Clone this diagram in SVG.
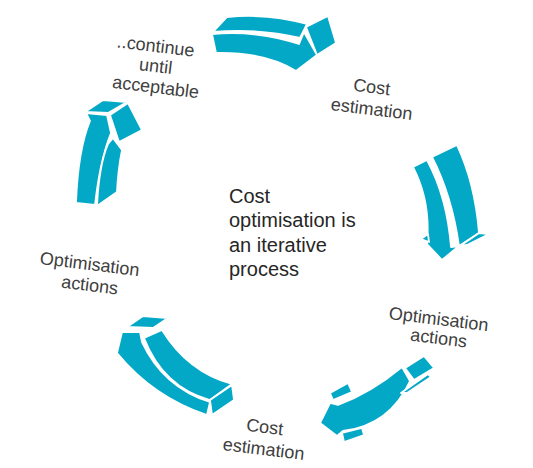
<svg xmlns="http://www.w3.org/2000/svg" width="533" height="468" viewBox="0 0 533 468">
<style>
.f{fill:#03A8C6;stroke:#fff;stroke-width:1.8;stroke-linejoin:round}
.lb{font-family:"Liberation Sans",Arial,sans-serif;font-size:18px;fill:#404040;text-anchor:middle}
.ct{font-family:"Liberation Sans",Arial,sans-serif;font-size:20px;fill:#262626}
</style>
<rect width="533" height="468" fill="#fff"/>
<g id="connectors">
<g id="arrow1">
<path class="f" d="M212,34 Q257,30 299,44 L304,32 L317,55 L296,71 Q266,52 216,53 Z"/>
<path class="f" d="M213,32 L227,17 Q268,13 307,24 L300,38 Q258,28 213,32 Z"/>
<path class="f" d="M306,27 L328,16 L336,43 L317,55 Z"/>
</g>
<g id="arrow2">
<path class="f" d="M413,167 L427,160 Q447,197 451,247 L459,246 L442,260 L427,244 Q431,202 413,167 Z"/>
<path class="f" d="M432,157 L457,145 Q475,183 479,233 L459,246 Q452,196 432,157 Z"/>
<path class="f" d="M479,233 L489,234 L467,245 L460,246 Z"/>
<path class="f" d="M421,239 L428,234 L429,242 Z"/>
</g>
<g id="arrow3">
<path class="f" d="M402,367 Q372,392 338,405 L330,403 L320,423 L337,436 L343,431 Q390,425 410,381 Z"/>
<path class="f" d="M405,368 L424,356 L434,368 L414,380 Z"/>
<path class="f" d="M330,393 L348,383 L352,392 L333,400 Z"/>
<path class="f" d="M401,393 L428,374 L431,377 L407,393 Z"/>
<path class="f" d="M342,433 L362,428 L364,435 L344,442 Z"/>
</g>
<g id="arrow4">
<path class="f" d="M122,332 L140,332 L142,342 Q163,387 210,402 L207,415 Q153,397 117,353 Z"/>
<path class="f" d="M144,338 L162,330 Q188,372 232,384 L210,400 Q163,387 144,338 Z"/>
<path class="f" d="M127,327 L143,316 L168,318 L153,328 Z"/>
<path class="f" d="M210,400 L232,385 L234,400 L212,415 Z"/>
</g>
<g id="arrow5">
<path class="f" d="M86,113 L107,115 L111,133 Q100,160 95,205 L76,203 Q78,150 90,121 Z"/>
<path class="f" d="M108,144 L113,138 L122,150 Q118,170 117,192 L97,206 Q99,165 108,144 Z"/>
<path class="f" d="M85,112 L103,100 L127,102 L108,113 Z"/>
<path class="f" d="M110,115 L128,103 L142,130 L119,142 Z"/>
</g>
</g>
<g id="center">
<text class="ct" x="229" y="203">Cost</text>
<text class="ct" x="229" y="227">optimisation is</text>
<text class="ct" x="229" y="252">an iterative</text>
<text class="ct" x="229" y="276">process</text>
</g>
<g id="node-continue">
<text class="lb" transform="translate(155,52) rotate(7)">..continue</text>
<text class="lb" transform="translate(155,72) rotate(7)">until</text>
<text class="lb" transform="translate(155,93) rotate(7)">acceptable</text>
</g>
<g id="node-cost1">
<text class="lb" transform="translate(371,93) rotate(7)">Cost</text>
<text class="lb" transform="translate(371,115) rotate(7)">estimation</text>
</g>
<g id="node-opt1">
<text class="lb" transform="translate(438,325) rotate(7)">Optimisation</text>
<text class="lb" transform="translate(438,344) rotate(7)">actions</text>
</g>
<g id="node-cost2">
<text class="lb" transform="translate(264,433) rotate(7)">Cost</text>
<text class="lb" transform="translate(263,455) rotate(7)">estimation</text>
</g>
<g id="node-opt2">
<text class="lb" transform="translate(89,270) rotate(7)">Optimisation</text>
<text class="lb" transform="translate(89,291) rotate(7)">actions</text>
</g>
</svg>
